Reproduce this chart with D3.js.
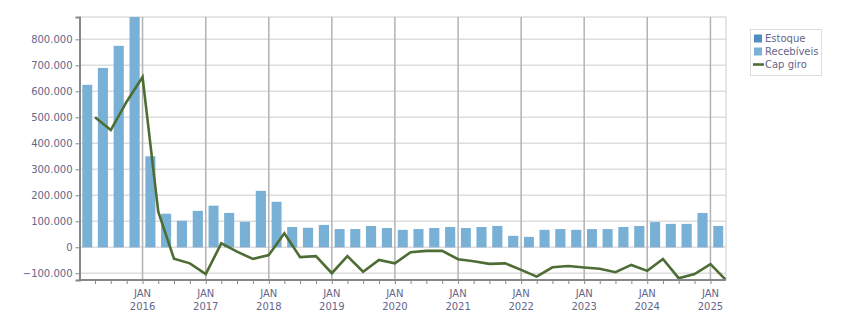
<!DOCTYPE html>
<html>
<head>
<meta charset="utf-8">
<script src="https://cdn.jsdelivr.net/npm/d3@7"></script>
<style>
  html, body { margin: 0; padding: 0; background: #fff; }
  svg { display: block; font-family: "DejaVu Sans", Verdana, sans-serif; }
</style>
</head>
<body>
<svg id="chart" width="851" height="313"></svg>
<script>
// ---- Data (quarterly) ----
const quarters = [
  "2015-01","2015-04","2015-07","2015-10",
  "2016-01","2016-04","2016-07","2016-10",
  "2017-01","2017-04","2017-07","2017-10",
  "2018-01","2018-04","2018-07","2018-10",
  "2019-01","2019-04","2019-07","2019-10",
  "2020-01","2020-04","2020-07","2020-10",
  "2021-01","2021-04","2021-07","2021-10",
  "2022-01","2022-04","2022-07","2022-10",
  "2023-01","2023-04","2023-07","2023-10",
  "2024-01","2024-04","2024-07","2024-10",
  "2025-01"
];
const estoque = [
  3000,3000,3000,3000, 3000,3000,3000,3000, 3000,3000,3000,3000,
  3000,3000,3000,3000, 3000,3000,3000,3000, 3000,3000,3000,3000,
  3000,3000,3000,3000, 3000,3000,3000,3000, 3000,3000,3000,3000,
  3000,3000,3000,3000, 3000
];
const recebiveis = [
  622000,687000,772000,883000,
  347000,126000,99000,137000,
  157000,129000,95000,214000,
  172000,75000,72000,83000,
  67000,67000,79000,71000,
  64000,67000,71000,75000,
  71000,75000,79000,41000,
  37000,64000,67000,64000,
  67000,67000,75000,79000,
  94000,87000,87000,129000,
  79000
];
// Cap giro: value at the end of each quarter
const capGiro = [
  500000,451000,560000,655000,
  137000,-44000,-62000,-103000,
  15000,-17000,-45000,-30000,
  54000,-38000,-34000,-100000,
  -34000,-94000,-49000,-62000,
  -19000,-14000,-14000,-46000,
  -54000,-64000,-62000,-87000,
  -113000,-77000,-72000,-78000,
  -83000,-96000,-68000,-91000,
  -45000,-119000,-103000,-65000,
  -126000
];
const yTicks = [-100000,0,100000,200000,300000,400000,500000,600000,700000,800000];
const xDomain = ["2015-01-01","2025-04-01"];
const seriesNames = ["Estoque","Recebíveis","Cap giro"];
const colors = { estoque: "#4f8fc2", recebiveis: "#78b1d5", capGiro: "#4e6d34" };

// ---- Layout ----
const svg = d3.select("#chart");
const M = { left: 79.5, right: 726, top: 17, bottom: 280 };
const parse = d3.utcParse("%Y-%m");
const parseD = d3.utcParse("%Y-%m-%d");
const FONT = "10px";

const x = d3.scaleUtc().domain(xDomain.map(parseD)).range([M.left, M.right]);

const rows = quarters.map((q, i) => {
  const start = parse(q);
  const end = d3.utcMonth.offset(start, 3);
  return { start, end, estoque: estoque[i], recebiveis: recebiveis[i], cap: capGiro[i] };
});
const maxTotal = d3.max(rows, d => d.estoque + d.recebiveis);
const minCap = d3.min(rows, d => d.cap);
const y = d3.scaleLinear().domain([minCap, maxTotal]).range([M.bottom, M.top]);

const labelColor = "#66668a";

// horizontal grid
svg.append("g").selectAll("line").data(yTicks).join("line")
  .attr("x1", M.left).attr("x2", M.right)
  .attr("y1", d => y(d)).attr("y2", d => y(d))
  .attr("stroke", "#dddddd").attr("stroke-width", 1.5);
// top & right frame
svg.append("line").attr("x1", M.left).attr("x2", M.right).attr("y1", M.top).attr("y2", M.top)
  .attr("stroke", "#dddddd").attr("stroke-width", 1.5);
svg.append("line").attr("x1", M.right).attr("x2", M.right).attr("y1", M.top).attr("y2", M.bottom)
  .attr("stroke", "#dddddd").attr("stroke-width", 1.5);

// vertical grid at January
const years = d3.utcYear.range(d3.utcYear.offset(x.domain()[0], 1), x.domain()[1]);
svg.append("g").selectAll("line").data(years).join("line")
  .attr("x1", d => x(d)).attr("x2", d => x(d))
  .attr("y1", M.top).attr("y2", M.bottom)
  .attr("stroke", "#b3b3b3").attr("stroke-width", 1.5);

// stacked bars
const barG = svg.append("g");
rows.forEach(d => {
  const x0 = x(d.start), x1 = x(d.end);
  const w = (x1 - x0) * 0.64;
  const cx = (x0 + x1) / 2;
  barG.append("rect").attr("x", cx - w/2).attr("width", w)
    .attr("y", y(d.estoque + d.recebiveis)).attr("height", y(d.estoque) - y(d.estoque + d.recebiveis))
    .attr("fill", colors.recebiveis);
  barG.append("rect").attr("x", cx - w/2).attr("width", w)
    .attr("y", y(d.estoque)).attr("height", y(0) - y(d.estoque))
    .attr("fill", colors.estoque);
});

// line
svg.append("clipPath").attr("id", "clip").append("rect")
  .attr("x", M.left).attr("y", M.top).attr("width", M.right - M.left).attr("height", M.bottom - M.top);
const line = d3.line().x(d => x(d.end)).y(d => y(d.cap));
svg.append("path").datum(rows).attr("d", line)
  .attr("clip-path", "url(#clip)")
  .attr("fill", "none").attr("stroke", colors.capGiro).attr("stroke-width", 2.6)
  .attr("stroke-linejoin", "miter");

// y axis
const yAxis = d3.axisLeft(y).tickValues(yTicks).tickSize(4).tickPadding(3)
  .tickFormat(d => d3.format(",")(d).replace(/,/g, "."));
const gy = svg.append("g").attr("transform", `translate(${M.left},0)`).call(yAxis);
gy.select(".domain").attr("stroke", "#888").attr("stroke-width", 2);
gy.selectAll(".tick line").attr("stroke", "#888");
gy.selectAll(".tick text").attr("fill", labelColor).style("font-size", FONT)
  .style("font-family", '"DejaVu Sans", Verdana, sans-serif');

// x axis
const quarterTicks = d3.utcMonth.every(3).range(d3.utcMonth.offset(x.domain()[0], 3), x.domain()[1]);
const xAxis = d3.axisBottom(x).tickValues(quarterTicks).tickSize(4).tickSizeOuter(0).tickFormat("");
const gx = svg.append("g").attr("transform", `translate(0,${M.bottom})`).call(xAxis);
gx.select(".domain").attr("stroke", "#888").attr("stroke-width", 2).attr("d", `M${M.left - 1},0H${M.right}`);
gx.selectAll(".tick line").attr("stroke", "#888");

const yl = svg.append("g");
years.forEach(d => {
  const t = yl.append("text").attr("x", x(d)).attr("text-anchor", "middle")
    .attr("fill", labelColor).style("font-size", FONT);
  t.append("tspan").attr("x", x(d)).attr("y", 296.5).text("JAN");
  t.append("tspan").attr("x", x(d)).attr("y", 310).text(d3.utcFormat("%Y")(d));
});

// legend
const lg = svg.append("g");
lg.append("rect").attr("x", 750.5).attr("y", 29.5).attr("width", 71).attr("height", 46)
  .attr("fill", "#fff").attr("stroke", "#dddddd");
const items = [
  { name: seriesNames[0], type: "rect", color: colors.estoque },
  { name: seriesNames[1], type: "rect", color: colors.recebiveis },
  { name: seriesNames[2], type: "line", color: colors.capGiro }
];
items.forEach((it, i) => {
  const cy = 38.5 + i * 13;
  if (it.type === "rect") {
    lg.append("rect").attr("x", 754).attr("y", cy - 4).attr("width", 8).attr("height", 8).attr("fill", it.color);
  } else {
    lg.append("line").attr("x1", 753).attr("x2", 764).attr("y1", cy).attr("y2", cy)
      .attr("stroke", it.color).attr("stroke-width", 2.6);
  }
  lg.append("text").attr("x", 765).attr("y", cy + 3.5).attr("fill", labelColor)
    .style("font-size", FONT).text(it.name);
});
</script>
</body>
</html>
